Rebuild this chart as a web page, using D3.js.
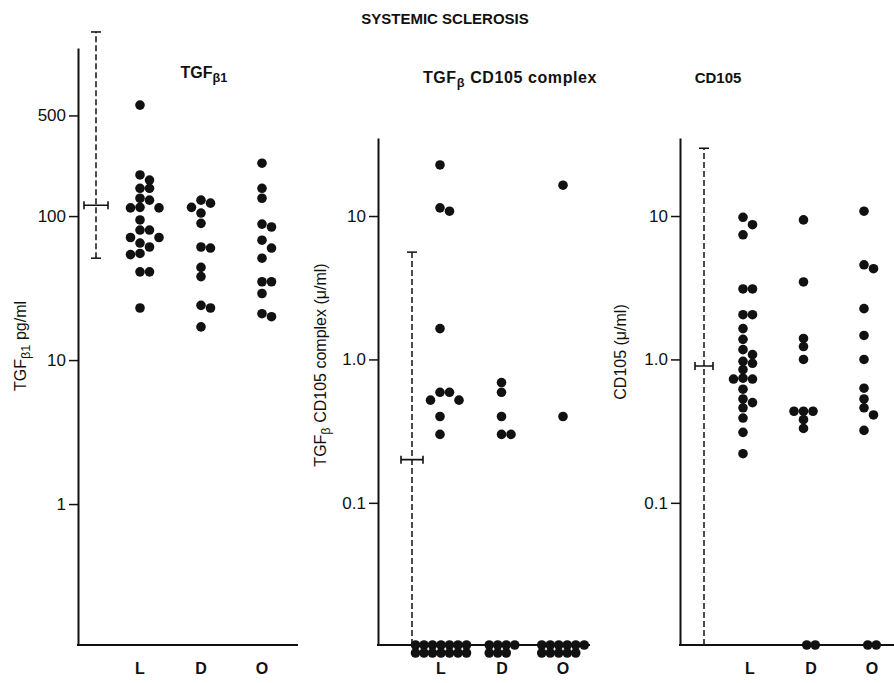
<!DOCTYPE html>
<html>
<head>
<meta charset="utf-8">
<script src="https://cdn.jsdelivr.net/npm/d3@7"></script>
<style>
  body { margin: 0; background: #fff; }
  svg { display: block; font-family: "Liberation Sans", Arial, sans-serif; }
</style>
</head>
<body>
<svg width="894" height="683"></svg>
<script>
// Groups on the x axis
const groups = ["L", "D", "O"];

// TGFb1 (pg/ml)
const tgfb1L = [590, 193, 178, 156, 156, 133, 129, 115, 114, 114, 94, 80, 80, 71, 71, 65, 61, 55, 54, 41, 41, 23];
const tgfb1D = [129, 123, 115, 105, 89, 61, 60, 44, 38, 24, 23, 17];
const tgfb1O = [233, 156, 133, 88, 84, 68, 60, 51, 35, 35, 29, 21, 20];
const tgfb1Bar = [51, 119, 1900]; // low, mean, high
const tgfb1Ticks = [1, 10, 100, 500];
const tgfb1TickLabels = ["1", "10", "100", "500"];

// TGFb CD105 complex (u/ml), 0 = undetectable
const complexL = [22.7, 11.4, 10.8, 1.64, 0.59, 0.59, 0.52, 0.52, 0.40, 0.30, 0, 0, 0, 0, 0, 0, 0, 0, 0, 0, 0, 0, 0, 0];
const complexD = [0.69, 0.59, 0.40, 0.30, 0.30, 0, 0, 0, 0, 0, 0, 0];
const complexO = [16.4, 0.40, 0, 0, 0, 0, 0, 0, 0, 0, 0, 0, 0];
const complexBar = [0, 0.2, 5.6];
const complexTicks = [0.1, 1, 10];
const complexTickLabels = ["0.1", "1.0", "10"];

// CD105 (u/ml)
const cd105L = [9.8, 8.7, 7.4, 3.1, 3.1, 2.05, 2.05, 1.64, 1.38, 1.17, 1.08, 0.97, 0.94, 0.85, 0.74, 0.73, 0.73, 0.62, 0.53, 0.50, 0.46, 0.39, 0.31, 0.22];
const cd105D = [9.4, 3.47, 1.40, 1.23, 1.0, 0.435, 0.435, 0.435, 0.38, 0.33, 0, 0];
const cd105O = [10.8, 4.57, 4.29, 2.26, 1.47, 1.0, 0.63, 0.53, 0.46, 0.41, 0.32, 0, 0];
const cd105Bar = [0, 0.9, 29.7];
const cd105Ticks = [0.1, 1, 10];
const cd105TickLabels = ["0.1", "1.0", "10"];

const svg = d3.select("svg");
const ink = "#111";
const r = 4.8;
const bottomY = 645;

// Main title
svg.append("text")
    .attr("x", 445).attr("y", 24)
    .attr("text-anchor", "middle")
    .style("font-weight", "bold").style("font-size", "15px")
    .attr("fill", ink)
    .text("SYSTEMIC SCLEROSIS");

// Text with a subscripted beta part
function subText(sel, parts) {
    parts.forEach(p => {
        const t = sel.append("tspan").text(p.t);
        if (p.sub) t.attr("baseline-shift", "-30%").style("font-size", "0.8em");
    });
}

function drawPanel(cfg) {
    const g = svg.append("g");

    const y = d3.scaleLog().domain(cfg.yDomain).range([bottomY, cfg.top]);
    const x = d3.scalePoint().domain(groups).range(cfg.xRange);
    const xl = d3.scalePoint().domain(groups).range(cfg.labelRange);
    const yv = v => v > 0 ? y(v) : bottomY;

    // y axis
    const axis = d3.axisLeft(y)
        .tickValues(cfg.ticks)
        .tickFormat((d, i) => cfg.tickLabels[i])
        .tickSize(9).tickSizeOuter(0).tickPadding(3);
    const ax = g.append("g").attr("transform", `translate(${cfg.x0},0)`).call(axis);
    ax.select(".domain").attr("stroke", ink).attr("stroke-width", 2);
    ax.selectAll(".tick line").attr("stroke", ink).attr("stroke-width", 1.5);
    ax.selectAll(".tick text").attr("fill", ink)
        .style("font-size", "17px").style("font-family", "Liberation Sans, Arial, sans-serif");

    // x axis line and group labels
    g.append("line")
        .attr("x1", cfg.x0 - 1).attr("x2", cfg.x1)
        .attr("y1", bottomY).attr("y2", bottomY)
        .attr("stroke", ink).attr("stroke-width", 2);
    g.selectAll(".glabel").data(groups).enter().append("text")
        .attr("x", d => xl(d)).attr("y", 674)
        .attr("text-anchor", "middle")
        .style("font-size", "16px").style("font-weight", "bold")
        .attr("fill", ink)
        .text(d => d);

    // panel title
    const tt = g.append("text")
        .attr("x", cfg.titleX).attr("y", cfg.titleY)
        .attr("text-anchor", "middle")
        .style("font-weight", "bold").style("font-size", cfg.titleSize)
        .style("letter-spacing", cfg.titleSpacing || "0px")
        .attr("fill", ink);
    subText(tt, cfg.title);

    // y label
    const yl = g.append("text")
        .attr("transform", `translate(${cfg.ylabX},${cfg.ylabY}) rotate(-90)`)
        .attr("text-anchor", "middle")
        .style("font-size", "16px")
        .attr("fill", ink);
    subText(yl, cfg.ylabel);

    // error bar: dashed range, mean bar with end serifs
    const bx = cfg.barX;
    g.append("line")
        .attr("x1", bx).attr("x2", bx)
        .attr("y1", yv(cfg.bar[0])).attr("y2", yv(cfg.bar[2]))
        .attr("stroke", ink).attr("stroke-width", 1.5)
        .attr("stroke-dasharray", "6,3");
    g.append("line")
        .attr("x1", bx - 5).attr("x2", bx + 5)
        .attr("y1", yv(cfg.bar[2])).attr("y2", yv(cfg.bar[2]))
        .attr("stroke", ink).attr("stroke-width", 1.5);
    if (cfg.bar[0] > 0) {
        g.append("line")
            .attr("x1", bx - 5).attr("x2", bx + 5)
            .attr("y1", yv(cfg.bar[0])).attr("y2", yv(cfg.bar[0]))
            .attr("stroke", ink).attr("stroke-width", 1.5);
    }
    const my = yv(cfg.bar[1]);
    g.append("path")
        .attr("d", `M${bx - cfg.capW},${my - 4}V${my + 4}M${bx - cfg.capW},${my}H${bx + cfg.capW}M${bx + cfg.capW},${my - 4}V${my + 4}`)
        .attr("fill", "none").attr("stroke", ink).attr("stroke-width", 1.6);

    // dots: simple swarm for detected values, grid on the axis for zeros
    const step = 9.5, minDist = 8;
    cfg.data.forEach((vals, gi) => {
        const cx = x(groups[gi]);
        const placed = [];
        vals.filter(v => v > 0).sort((a, b) => b - a).forEach(v => {
            const yy = y(v);
            for (const k of [0, 1, -1, 2, -2, 3, -3]) {
                const xx = cx + k * step;
                if (placed.every(p => Math.hypot(p.x - xx, p.y - yy) >= minDist)) {
                    placed.push({ x: xx, y: yy });
                    break;
                }
            }
        });
        const zeros = vals.filter(v => v === 0).length;
        const rows = zeros > 2 ? 2 : 1;
        const cols = Math.ceil(zeros / rows);
        const zx = xl(groups[gi]);
        for (let i = 0; i < zeros; i++) {
            const c = Math.floor(i / rows), rw = i % rows;
            placed.push({ x: zx + (c - (cols - 1) / 2) * 8.5, y: bottomY + rw * 8 });
        }
        g.selectAll(null).data(placed).enter().append("circle")
            .attr("cx", d => d.x).attr("cy", d => d.y)
            .attr("r", r).attr("fill", ink);
    });
}

drawPanel({
    data: [tgfb1L, tgfb1D, tgfb1O], bar: tgfb1Bar,
    ticks: tgfb1Ticks, tickLabels: tgfb1TickLabels,
    yDomain: [0.105, 1470], top: 48,
    x0: 78, x1: 298, xRange: [140, 262], labelRange: [140, 262],
    barX: 96, capW: 12,
    title: [{ t: "TGF" }, { t: "β1", sub: true }], titleX: 204, titleY: 78, titleSize: "16px",
    ylabel: [{ t: "TGF" }, { t: "β1", sub: true }, { t: "  pg/ml" }], ylabX: 26, ylabY: 346
});

drawPanel({
    data: [complexL, complexD, complexO], bar: complexBar,
    ticks: complexTicks, tickLabels: complexTickLabels,
    yDomain: [0.0102, 35], top: 138,
    x0: 378, x1: 590, xRange: [440, 563], labelRange: [441, 563],
    barX: 412, capW: 11,
    title: [{ t: "TGF" }, { t: "β", sub: true }, { t: " CD105 complex" }], titleX: 510, titleY: 83,
    titleSize: "16px", titleSpacing: "0.6px",
    ylabel: [{ t: "TGF" }, { t: "β", sub: true }, { t: "  CD105 complex (μ/ml)" }], ylabX: 326, ylabY: 365
});

drawPanel({
    data: [cd105L, cd105D, cd105O], bar: cd105Bar,
    ticks: cd105Ticks, tickLabels: cd105TickLabels,
    yDomain: [0.0102, 35], top: 138,
    x0: 680, x1: 894, xRange: [743, 864], labelRange: [750, 872],
    barX: 704, capW: 9,
    title: [{ t: "CD105" }], titleX: 718, titleY: 83, titleSize: "15px",
    ylabel: [{ t: "CD105 (μ/ml)" }], ylabX: 626, ylabY: 352
});
</script>
</body>
</html>
